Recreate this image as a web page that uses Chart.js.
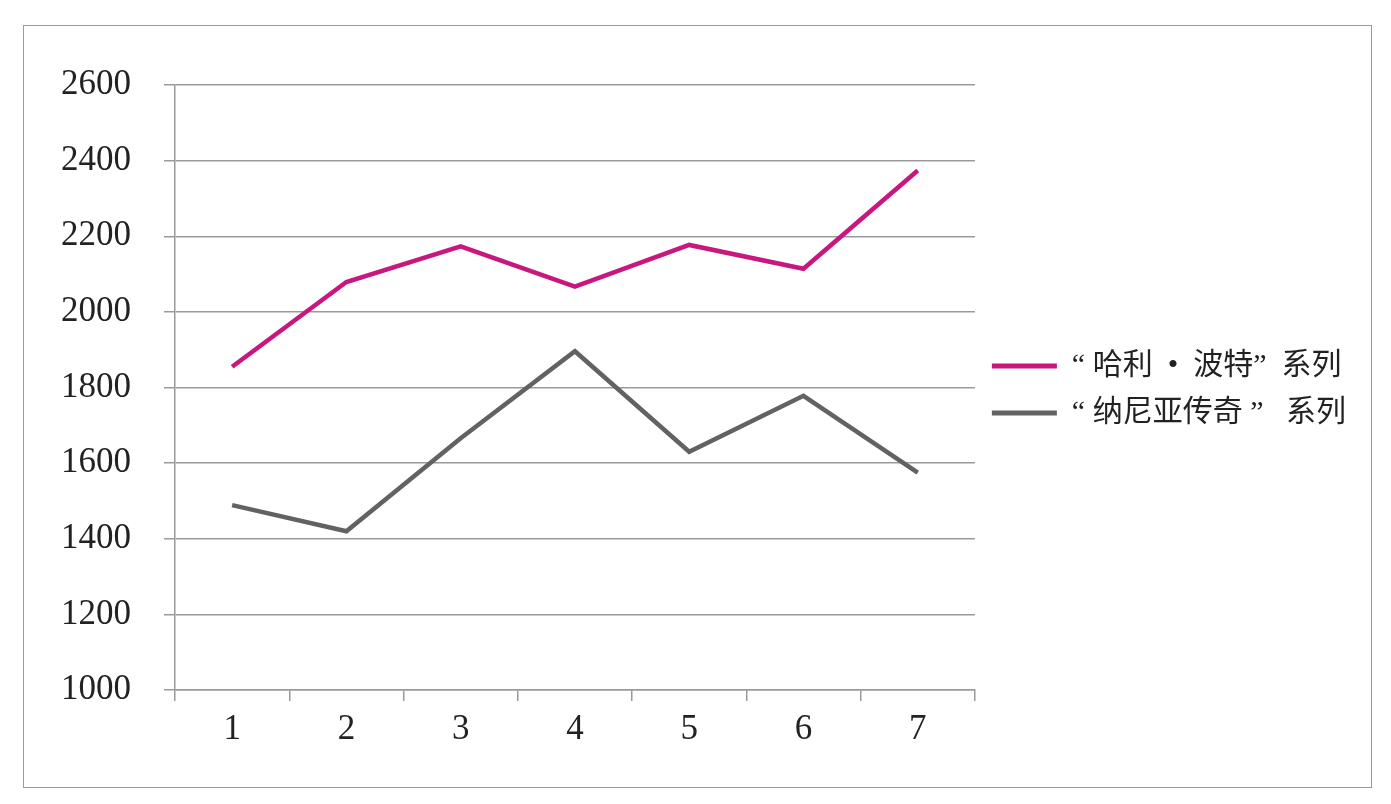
<!DOCTYPE html>
<html>
<head>
<meta charset="utf-8">
<script src="https://cdn.jsdelivr.net/npm/chart.js@4"></script>
<style>
    html, body { margin: 0; padding: 0; background: #fff; }
    #frame {
        position: absolute; left: 23px; top: 25px;
        width: 1347px; height: 761px;
        border: 1.5px solid #9a9a9a;
    }
    #wrap { position: absolute; left: 0; top: 0; width: 1391px; height: 804px; }
</style>
</head>
<body>
<div id="frame"></div>
<div id="wrap"><canvas id="myCanvas"></canvas></div>
<script>
// chart values
const categories = ['1', '2', '3', '4', '5', '6', '7'];
const harryPotter = [1855, 2079, 2173, 2067, 2177, 2114, 2374];
const narnia = [1489, 1420, 1666, 1896, 1630, 1778, 1575];
const seriesNames = ['“ 哈利  •  波特”  系列', '“ 纳尼亚传奇 ”   系列'];
const yMin = 1000, yMax = 2600, yStep = 200;

// right-hand legend: give it more room and centre it on the plot area only
const legendTweak = {
    id: 'legendTweak',
    afterInit(chart) {
        const lg = chart.legend;
        if (!lg) return;
        const origUpdate = lg.update;
        lg.update = function (maxWidth, maxHeight, margins) {
            return origUpdate.call(this, 420, maxHeight, margins);
        };
    },
    afterLayout(chart) {
        if (chart.legend) chart.legend.bottom = chart.chartArea.bottom + 4;
    }
};

document.addEventListener('DOMContentLoaded', () => {
    const ctx = document.getElementById('myCanvas').getContext('2d');

    const data = {
        labels: categories,
        datasets: [{
            label: seriesNames[0],
            data: harryPotter,
            borderColor: '#c8177f',
            backgroundColor: '#c8177f',
            borderWidth: 4.5,
            pointRadius: 0,
            tension: 0
        }, {
            label: seriesNames[1],
            data: narnia,
            borderColor: '#626262',
            backgroundColor: '#626262',
            borderWidth: 4.5,
            pointRadius: 0,
            tension: 0
        }]
    };

    const tickFont = { family: '"Liberation Serif", "DejaVu Serif", serif', size: 35 };

    const config = {
        type: 'line',
        data: data,
        plugins: [legendTweak],
        options: {
            responsive: true,
            maintainAspectRatio: false,
            animation: false,
            layout: { padding: { left: 55, top: 85, right: 35, bottom: 54 } },
            plugins: {
                tooltip: { enabled: false },
                legend: {
                    position: 'right',
                    labels: {
                        boxWidth: 65,
                        boxHeight: 5,
                        padding: 17,
                        color: '#222',
                        font: { family: '"Liberation Serif", "Noto Sans CJK SC", sans-serif', size: 30 },
                        generateLabels: (chart) => {
                            const items = Chart.defaults.plugins.legend.labels.generateLabels(chart);
                            items.forEach(it => { it.lineWidth = 0; });
                            return items;
                        }
                    }
                }
            },
            scales: {
                x: {
                    offset: true,
                    grid: {
                        offset: true,
                        drawOnChartArea: false,
                        drawTicks: true,
                        tickLength: 11,
                        color: '#9a9a9a',
                        lineWidth: 1.5
                    },
                    border: { display: true, color: '#9a9a9a', width: 1.5 },
                    ticks: { color: '#222', font: tickFont, padding: 8, maxRotation: 0 },
                    afterFit: (scale) => { scale.height = 60; }
                },
                y: {
                    min: yMin,
                    max: yMax,
                    grid: { color: '#9a9a9a', lineWidth: 1.5, tickLength: 11 },
                    border: { display: true, color: '#9a9a9a', width: 1.5 },
                    ticks: {
                        stepSize: yStep,
                        color: '#222',
                        font: tickFont,
                        padding: 33,
                        callback: (v) => String(v)
                    },
                    afterFit: (scale) => { scale.width = 120; }
                }
            }
        }
    };

    const myChart = new Chart(ctx, config);
});
</script>
</body>
</html>
